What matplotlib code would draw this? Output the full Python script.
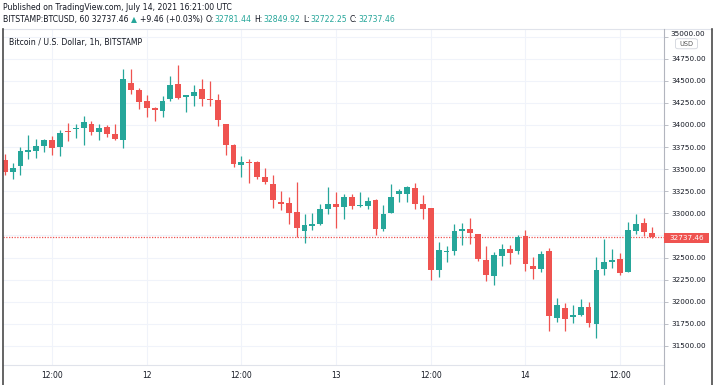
import numpy as np
import pandas as pd
import matplotlib
matplotlib.use("Agg")
import matplotlib.pyplot as plt
from matplotlib.patches import Rectangle, FancyBboxPatch
from matplotlib.lines import Line2D

# hourly BTCUSD candles, 2021-07-11 06:00 .. 2021-07-14 16:00
times = pd.date_range("2021-07-11 06:00", periods=83, freq="h")

opens = [33606, 33468, 33535, 33696, 33700, 33760, 33831, 33749, 33933, 33951,
         33963, 34015, 33918, 33981, 33895, 33828, 34480, 34398, 34267, 34188,
         34162, 34289, 34461, 34319, 34330, 34405, 34293, 34285, 34015, 33768,
         33543, 33577, 33581, 33414, 33335, 33133, 33118, 33020, 32799, 32855,
         32881, 33046, 33103, 33073, 33181, 33088, 33088, 33151, 32825, 33009,
         33217, 33217, 33292, 33105, 33060, 32355, 32561, 32569, 32805, 32827,
         32764, 32475, 32291, 32516, 32595, 32569, 32745, 32408, 32375, 32569,
         31817, 31933, 31828, 31847, 31944, 31753, 32371, 32446, 32483, 32333,
         32805, 32888, 32781.44]
highs = [33666, 33569, 33749, 33891, 33843, 33846, 33880, 33948, 34026, 34011,
         34105, 34041, 34015, 34000, 34011, 34637, 34637, 34413, 34341, 34206,
         34323, 34555, 34679, 34341, 34454, 34518, 34495, 34349, 34015, 33787,
         33644, 33614, 33588, 33508, 33433, 33253, 33189, 33354, 32990, 33005,
         33106, 33298, 33238, 33219, 33215, 33238, 33185, 33163, 33095, 33331,
         33281, 33307, 33341, 33206, 33060, 32674, 32632, 32876, 32887, 32951,
         32764, 32632, 32561, 32651, 32644, 32752, 32813, 32506, 32569, 32607,
         32038, 31989, 31959, 32034, 32000, 32506, 32708, 32596, 32551, 32906,
         32989, 32944, 32849.92]
lows = [33437, 33385, 33430, 33610, 33629, 33693, 33663, 33648, 33813, 33858,
        33776, 33888, 33835, 33869, 33835, 33745, 34345, 34180, 34094, 34042,
        34087, 34267, 34293, 34150, 34218, 34218, 34210, 33993, 33656, 33524,
        33412, 33345, 33386, 33328, 33065, 33039, 32878, 32728, 32660, 32814,
        32870, 32990, 32840, 32934, 33050, 33069, 33050, 32750, 32803, 33001,
        33124, 33131, 33052, 32932, 32250, 32276, 32449, 32531, 32644, 32651,
        32456, 32231, 32194, 32400, 32430, 32535, 32345, 32262, 32337, 31670,
        31772, 31670, 31764, 31839, 31715, 31588, 32300, 32382, 32303, 32333,
        32768, 32745, 32722.25]
closes = [33468, 33509, 33711, 33719, 33757, 33835, 33738, 33914, 33921, 33970,
          34038, 33918, 33970, 33895, 33843, 34518, 34390, 34255, 34188, 34165,
          34274, 34454, 34308, 34341, 34375, 34293, 34278, 34053, 33775, 33558,
          33577, 33566, 33416, 33354, 33155, 33106, 33009, 32840, 32870, 32885,
          33046, 33106, 33076, 33189, 33088, 33095, 33140, 32825, 32990, 33189,
          33251, 33300, 33109, 33052, 32355, 32587, 32572, 32801, 32824, 32782,
          32486, 32299, 32527, 32599, 32557, 32737, 32423, 32371, 32539, 31839,
          31963, 31809, 31854, 31944, 31760, 32363, 32449, 32476, 32322, 32813,
          32880, 32787, 32737.46]

y_ticks = np.arange(31500, 35001, 250)
x_tick_pos = [6, 18, 30, 42, 54, 66, 78]
x_tick_labels = ["12:00", "12", "12:00", "13", "12:00", "14", "12:00"]
last_price = 32737.46

UP = "#26a69a"
DOWN = "#ef5350"
TXT = "#131722"
GRID = "#f0f3fa"

W, H = 715, 385
fig = plt.figure(figsize=(W / 100, H / 100), dpi=100)


def fx(px):
    return px / W


def fy(py):
    return 1 - py / H


ax = fig.add_axes([fx(3), fy(365), fx(664) - fx(3), fy(28.5) - fy(365)])

x = np.arange(len(opens))
o = np.array(opens)
c = np.array(closes)
colors = [UP if cc >= oo else DOWN for oo, cc in zip(o, c)]

ax.vlines(x, lows, highs, colors=colors, linewidth=0.9, zorder=3)
bottoms = np.minimum(o, c)
heights = np.maximum(np.abs(c - o), 6)
ax.bar(x, heights, bottom=bottoms, width=0.74, color=colors, linewidth=0, zorder=4)

ax.axhline(last_price, color=DOWN, linestyle=(0, (1, 1.2)), linewidth=0.9, zorder=2)

ax.set_xlim(-0.215, 83.56)
ax.set_ylim(31285, 35091)

# 32750 label sits under the last-price tag; 35000 is drawn by hand above the USD badge
ax.yaxis.tick_right()
ax.set_yticks(y_ticks)
ax.set_yticklabels(["" if (abs(v - last_price) < 100 or v == y_ticks[-1]) else f"{v:.2f}"
                    for v in y_ticks])
ax.tick_params(axis="y", length=3, width=0.6, color="#b2b5be", pad=2.5,
               labelsize=5.2, labelcolor=TXT)
ax.set_xticks(x_tick_pos)
ax.set_xticklabels(x_tick_labels)
ax.tick_params(axis="x", length=0, pad=4, labelsize=5.5, labelcolor=TXT)

ax.grid(True, color=GRID, linewidth=0.8, zorder=0)
ax.set_axisbelow(True)
for side in ["top", "right", "bottom", "left"]:
    ax.spines[side].set_visible(False)

# frame lines around chart / price scale
def fline(x0, y0, x1, y1, color, lw):
    fig.add_artist(Line2D([fx(x0), fx(x1)], [fy(y0), fy(y1)], color=color, linewidth=lw))

fline(3, 28.5, 712, 28.5, "#e0e3eb", 0.8)
fline(3, 365, 664, 365, "#e0e3eb", 0.8)
fline(664, 28.5, 664, 385, "#b2b5be", 0.8)
fline(2.7, 28.5, 2.7, 385, "#4a4a4a", 1.2)
fline(712, 28.5, 712, 385, "#4a4a4a", 1.2)

fig.text(fx(670.5), fy(34), f"{y_ticks[-1]:.2f}", color=TXT, fontsize=5.2,
         ha="left", va="center")

# last price tag
fig.add_artist(Rectangle((fx(664), fy(243)), fx(709) - fx(664), fy(232.5) - fy(243),
                         transform=fig.transFigure, facecolor=DOWN, edgecolor="none", zorder=5))
fig.text(fx(686.5), fy(237.8), f"{last_price:.2f}", color="white", fontsize=5.2,
         ha="center", va="center", zorder=6)

# USD badge
fig.add_artist(FancyBboxPatch((fx(677), fy(48)), fx(696) - fx(677), fy(39.5) - fy(48),
                              boxstyle="round,pad=0.002,rounding_size=0.004",
                              transform=fig.transFigure, facecolor="white",
                              edgecolor="#d1d4dc", linewidth=0.6, zorder=5))
fig.text(fx(686.5), fy(43.8), "USD", color="#555555", fontsize=4.8,
         ha="center", va="center", zorder=6)

# header
fig.text(fx(3), fy(7), "Published on TradingView.com, July 14, 2021 16:21:00 UTC",
         fontsize=5.6, color=TXT, va="center")

pieces = [("BITSTAMP:BTCUSD, 60 32737.46", TXT), ("\u25b2", UP),
          ("+9.46 (+0.03%)", TXT), ("O:", TXT), ("32781.44", UP),
          ("H:", TXT), ("32849.92", UP), ("L:", TXT), ("32722.25", UP),
          ("C:", TXT), ("32737.46", UP)]
gaps = [0, 2, 2, 2, 0.5, 2, 0.5, 2, 0.5, 2, 0.5]
t = fig.text(fx(3), fy(19.5), pieces[0][0], fontsize=5.6, color=pieces[0][1], va="center")
for (s, col), g in zip(pieces[1:], gaps[1:]):
    t = ax.annotate(s, xy=(1, 0.5), xycoords=t, xytext=(g, 0), textcoords="offset points",
                    fontsize=5.6, color=col, va="center", annotation_clip=False)

fig.text(fx(9), fy(42.5), "Bitcoin / U.S. Dollar, 1h, BITSTAMP", fontsize=5.6,
         color=TXT, va="center")

fig.savefig("out.png", dpi=100)
